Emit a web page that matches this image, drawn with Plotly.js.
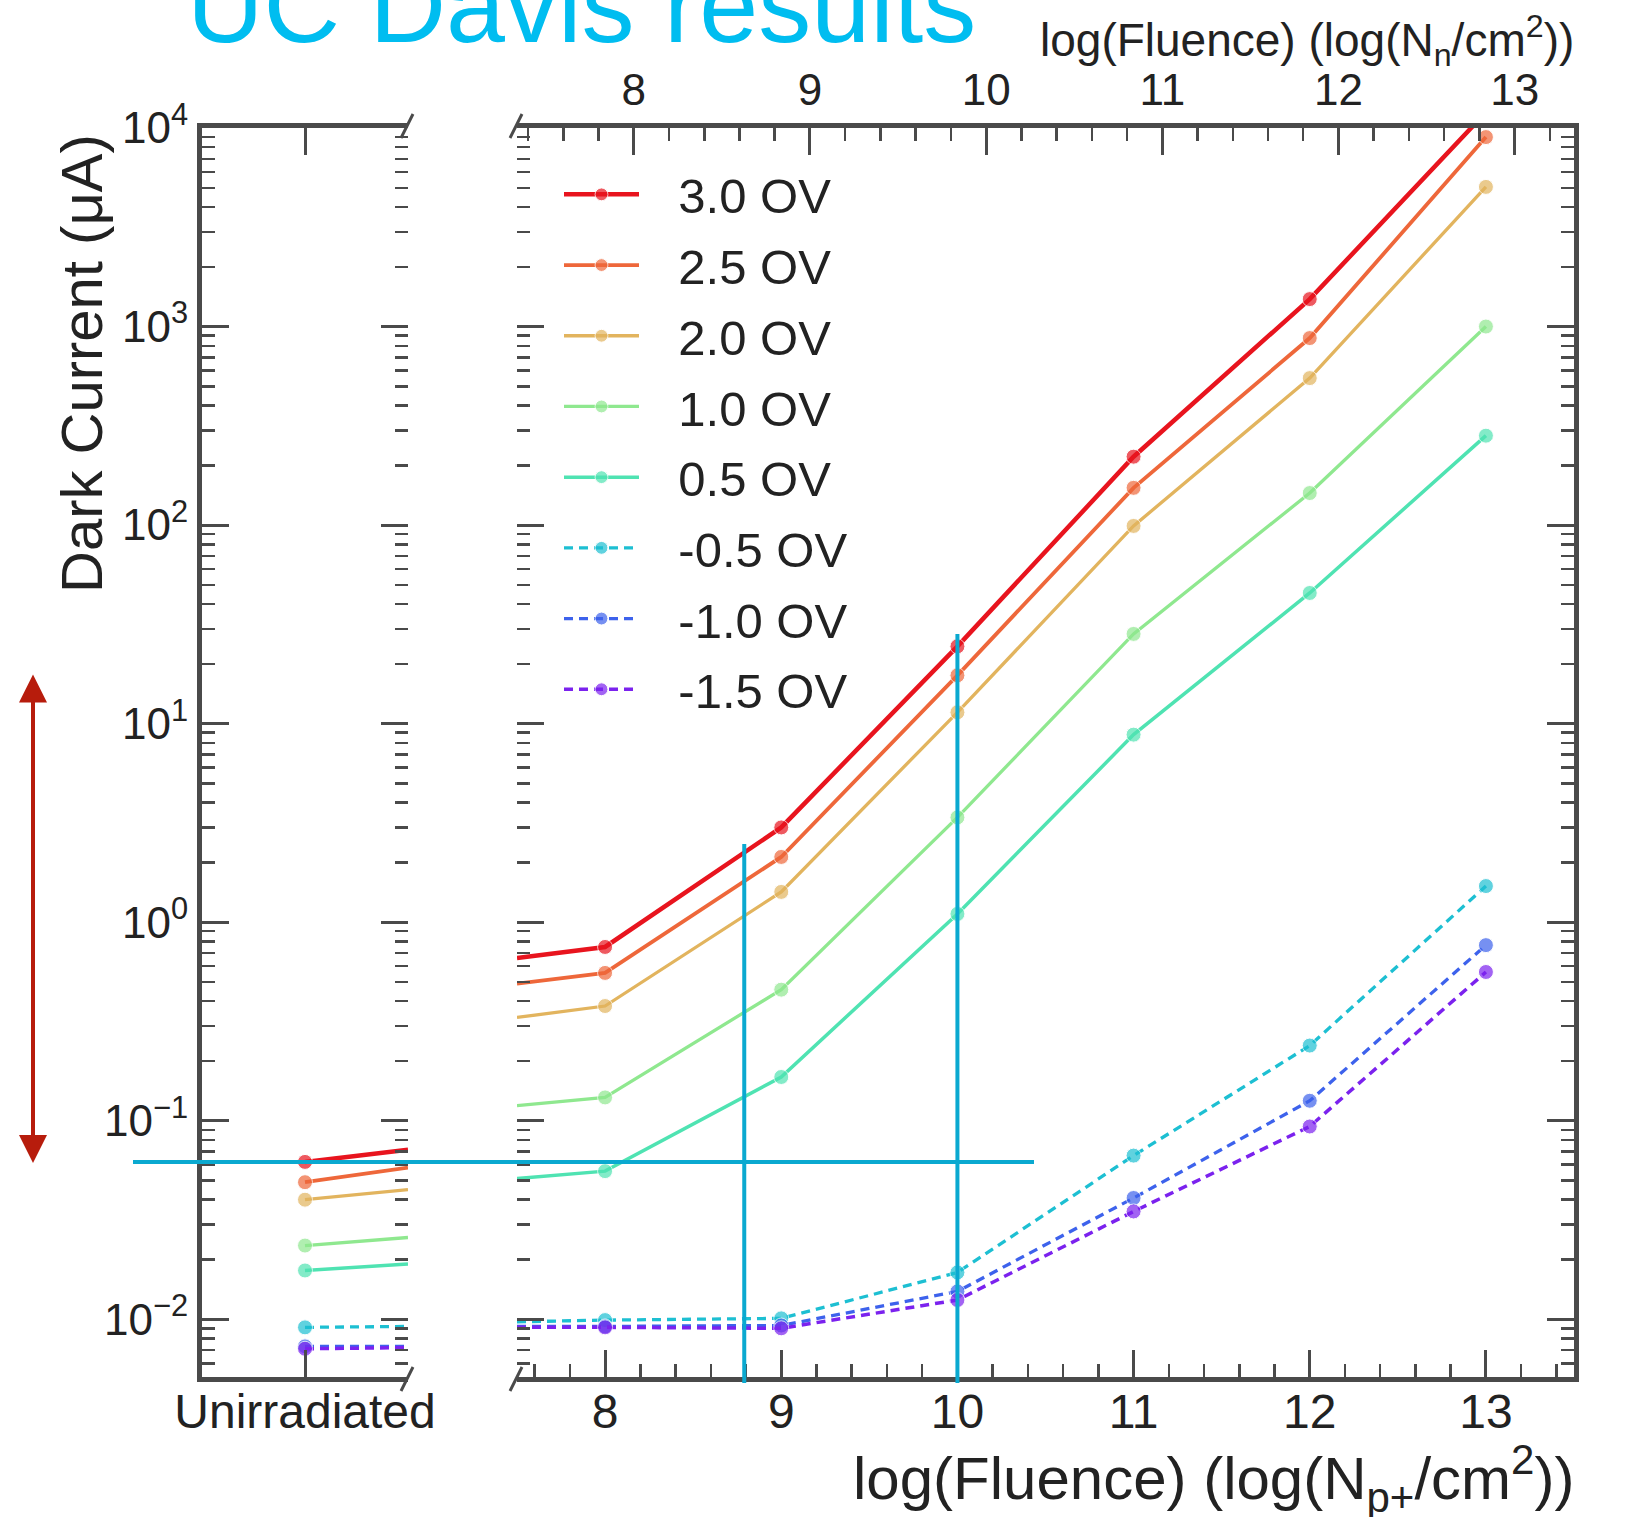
<!DOCTYPE html>
<html>
<head>
<meta charset="utf-8">
<script src="https://cdn.plot.ly/plotly-3.0.1.min.js"></script>
<style>html,body{margin:0;padding:0;background:#fff;}#chart{width:1630px;height:1517px;}</style>
</head>
<body>
<div id="chart"></div>
<script>
// ---------------- data ----------------
var seriesNames = ['3.0 OV', '2.5 OV', '2.0 OV', '1.0 OV', '0.5 OV', '-0.5 OV', '-1.0 OV', '-1.5 OV'];
var fluence = [8, 9, 10, 11, 12, 13];
var unirradiatedLabel = ['Unirradiated'];
// unirradiated dark current (uA) and where its line leaves the left panel
var unirradiated = [0.062, 0.049, 0.040, 0.0235, 0.0176, 0.0091, 0.0073, 0.0071];
var unirradiatedEdge = [0.0714, 0.058, 0.045, 0.0258, 0.019, 0.0092, 0.0073, 0.0072];
// value where each line enters the irradiated panel (at its left edge)
var irradiatedEdge = [0.66, 0.49, 0.331, 0.119, 0.0512, 0.0097, 0.0092, 0.0091];
var ov30 = [0.75, 3.0, 24.5, 221, 1375, 12000];
var ov25 = [0.555, 2.13, 17.5, 154, 875, 9000];
var ov20 = [0.378, 1.42, 11.4, 99, 550, 5050];
var ov10 = [0.131, 0.457, 3.37, 28.3, 145, 1000];
var ov05 = [0.0557, 0.166, 1.10, 8.8, 45.5, 282];
var ovm05 = [0.0099, 0.0101, 0.0172, 0.0667, 0.239, 1.52];
var ovm10 = [0.0092, 0.0093, 0.0138, 0.0408, 0.126, 0.766];
var ovm15 = [0.0091, 0.0090, 0.0125, 0.0349, 0.0935, 0.561];
var seriesValues = [ov30, ov25, ov20, ov10, ov05, ovm05, ovm10, ovm15];
var yTickVals = [0.01, 0.1, 1, 10, 100, 1000, 10000];
var yTickText = ['10<sup>\u22122</sup>', '10<sup>\u22121</sup>', '10<sup>0</sup>', '10<sup>1</sup>', '10<sup>2</sup>', '10<sup>3</sup>', '10<sup>4</sup>'];
var topTickVals = [8, 9, 10, 11, 12, 13];

// ---------------- styles ----------------
var colors = ['#E8141E', '#EE673A', '#E2B45E', '#8FE88F', '#4FE3B2', '#1DBFD2', '#3D62EC', '#7B22EE'];
var widths = [4.5, 3.8, 3.3, 3.3, 3.5, 3.3, 3.3, 3.5];
var dashes = ['solid', 'solid', 'solid', 'solid', 'solid', '9px,6px', '9px,6px', '9px,6px'];
var FONT = 'Liberation Sans, Arial, Helvetica, sans-serif';
var AX = '#4a4a4a';
var W = 1630, H = 1517;
var leftX0 = 202, leftX1 = 408, rightX0 = 517, rightX1 = 1574, yTop = 128, yBot = 1377;
var panelLeftRange = [-1, 1];
var panelRightRange = [7.5, 13.5];
var topOffset = 0.163;
var yRange = [-2.291, 4.0];
var MS = 15;

var traces = [];
for (var i = 0; i < seriesNames.length; i++) {
  // left (unirradiated) panel
  traces.push({
    x: [0, panelLeftRange[1]], y: [unirradiated[i], unirradiatedEdge[i]],
    xaxis: 'x', yaxis: 'y', mode: 'lines+markers', showlegend: false, hoverinfo: 'skip',
    legendgroup: seriesNames[i],
    line: {color: colors[i], width: widths[i], dash: dashes[i]},
    marker: {color: colors[i], size: [MS, 0]}
  });
  // right (irradiated) panel
  traces.push({
    x: [panelRightRange[0]].concat(fluence), y: [irradiatedEdge[i]].concat(seriesValues[i]),
    xaxis: 'x2', yaxis: 'y2', mode: 'lines+markers', name: '\u2002\u2009' + seriesNames[i],
    legendgroup: seriesNames[i],
    line: {color: colors[i], width: widths[i], dash: dashes[i]},
    marker: {color: colors[i], size: [0, MS, MS, MS, MS, MS, MS]}
  });
}
// carriers for the extra tick-only axes
traces.push({x: [], y: [], xaxis: 'x3', yaxis: 'y2', showlegend: false, hoverinfo: 'skip', mode: 'markers'});
traces.push({x: [], y: [], xaxis: 'x', yaxis: 'y3', showlegend: false, hoverinfo: 'skip', mode: 'markers'});
traces.push({x: [], y: [], xaxis: 'x2', yaxis: 'y4', showlegend: false, hoverinfo: 'skip', mode: 'markers'});

function yAx(extra) {
  var a = {
    type: 'log', range: yRange, autorange: false,
    domain: [(H - yBot) / H, (H - yTop) / H],
    tickmode: 'array', tickvals: yTickVals, ticktext: yTickText,
    ticks: 'inside', ticklen: 27, tickwidth: 3, tickcolor: AX,
    minor: {dtick: 'D1', ticks: 'inside', ticklen: 13, tickwidth: 2.5, tickcolor: AX},
    showgrid: false, zeroline: false, showline: false,
    tickfont: {family: FONT, size: 44, color: '#222'}, fixedrange: true
  };
  for (var k in extra) a[k] = extra[k];
  return a;
}

var xTickFont = {family: FONT, size: 48, color: '#222'};
var layout = {
  width: W, height: H,
  margin: {l: 0, r: 0, t: 0, b: 0, pad: 0},
  paper_bgcolor: '#ffffff', plot_bgcolor: 'rgba(0,0,0,0)',
  showlegend: true,
  xaxis: {
    domain: [leftX0 / W, leftX1 / W], range: panelLeftRange, autorange: false,
    tickmode: 'array', tickvals: [0], ticktext: unirradiatedLabel,
    ticks: 'inside', ticklen: 27, tickwidth: 3, tickcolor: AX,
    showline: true, linewidth: 5, linecolor: AX, mirror: 'ticks', ticklabelstandoff: -12,
    showgrid: false, zeroline: false, tickfont: xTickFont, anchor: 'y', fixedrange: true
  },
  xaxis2: {
    domain: [rightX0 / W, rightX1 / W], range: panelRightRange, autorange: false,
    tickmode: 'linear', tick0: 8, dtick: 1,
    ticks: 'inside', ticklen: 27, tickwidth: 3, tickcolor: AX,
    minor: {dtick: 0.2, ticks: 'inside', ticklen: 13, tickwidth: 2.5, tickcolor: AX},
    showline: true, linewidth: 5, linecolor: AX, ticklabelstandoff: -12,
    showgrid: false, zeroline: false, tickfont: xTickFont, anchor: 'y2', fixedrange: true
  },
  xaxis3: {
    overlaying: 'x2', side: 'top', anchor: 'y2',
    range: [panelRightRange[0] - topOffset, panelRightRange[1] - topOffset], autorange: false,
    tickmode: 'array', tickvals: topTickVals,
    ticks: 'inside', ticklen: 27, tickwidth: 3, tickcolor: AX,
    minor: {dtick: 0.2, tick0: 0, ticks: 'inside', ticklen: 13, tickwidth: 2.5, tickcolor: AX},
    showline: true, linewidth: 5, linecolor: AX,
    showgrid: false, zeroline: false, tickfont: {family: FONT, size: 44, color: '#222'}, fixedrange: true
  },
  yaxis: yAx({anchor: 'x', side: 'left', showline: true, linewidth: 5, linecolor: AX}),
  yaxis3: yAx({anchor: 'x', overlaying: 'y', side: 'right', showticklabels: false}),
  yaxis2: yAx({anchor: 'x2', side: 'right', showline: true, linewidth: 5, linecolor: AX, showticklabels: false}),
  yaxis4: yAx({anchor: 'x2', overlaying: 'y2', side: 'left', showticklabels: false}),
  legend: {
    x: 559 / W, y: 1 - 156 / H, xanchor: 'left', yanchor: 'top',
    bgcolor: 'rgba(255,255,255,0)', borderwidth: 0,
    font: {family: FONT, size: 49, color: '#222'},
    itemwidth: 75, tracegroupgap: 4
  },
  annotations: [
    {text: 'UC Davis results', xref: 'paper', yref: 'paper', x: 185 / W, y: 1 - 5 / H,
      xanchor: 'left', yanchor: 'middle', showarrow: false,
      font: {family: FONT, size: 106, color: '#00BDF0'}},
    {text: 'log(Fluence) (log(N<sub>n</sub>/cm<sup>2</sup>))', xref: 'paper', yref: 'paper',
      x: 1576 / W, y: 1 - 41 / H, xanchor: 'right', yanchor: 'middle', showarrow: false,
      font: {family: FONT, size: 46, color: '#222'}},
    {text: 'log(Fluence) (log(N<sub>p+</sub>/cm<sup>2</sup>))', xref: 'paper', yref: 'paper',
      x: 1576 / W, y: 1 - 1478 / H, xanchor: 'right', yanchor: 'middle', showarrow: false,
      font: {family: FONT, size: 60, color: '#222'}},
    {text: 'Dark Current (\u03bcA)', xref: 'paper', yref: 'paper', textangle: -90,
      x: 81 / W, y: 1 - 364 / H, xanchor: 'center', yanchor: 'middle', showarrow: false,
      font: {family: FONT, size: 58, color: '#222'}},
    {text: '', xref: 'paper', yref: 'paper', x: 33 / W, y: 1 - 1163 / H,
      ax: 0, ay: -490, axref: 'pixel', ayref: 'pixel', showarrow: true,
      arrowside: 'end+start', arrowhead: 2, arrowsize: 1.4, arrowwidth: 4, arrowcolor: '#B71C0C'}
  ],
  shapes: [
    // cyan guide lines
    {type: 'line', xref: 'paper', yref: 'y', x0: 133 / W, x1: 1034 / W, y0: unirradiated[0], y1: unirradiated[0],
      line: {color: '#0AA9D0', width: 4}},
    {type: 'line', xref: 'x2', yref: 'paper', x0: 8.79, x1: 8.79, y0: 1 - 1383 / H, y1: 1 - 844 / H,
      line: {color: '#0AA9D0', width: 4}},
    {type: 'line', xref: 'x2', yref: 'paper', x0: 10.0, x1: 10.0, y0: 1 - 1383 / H, y1: 1 - 634 / H,
      line: {color: '#0AA9D0', width: 4}},
    // axis break marks
    {type: 'line', xref: 'paper', yref: 'paper', x0: (leftX1 - 7) / W, x1: (leftX1 + 5) / W, y0: 1 - (yTop + 10) / H, y1: 1 - (yTop - 14) / H, line: {color: AX, width: 3}},
    {type: 'line', xref: 'paper', yref: 'paper', x0: (leftX1 - 7) / W, x1: (leftX1 + 5) / W, y0: 1 - (yBot + 14) / H, y1: 1 - (yBot - 10) / H, line: {color: AX, width: 3}},
    {type: 'line', xref: 'paper', yref: 'paper', x0: (rightX0 - 7) / W, x1: (rightX0 + 5) / W, y0: 1 - (yTop + 10) / H, y1: 1 - (yTop - 14) / H, line: {color: AX, width: 3}},
    {type: 'line', xref: 'paper', yref: 'paper', x0: (rightX0 - 7) / W, x1: (rightX0 + 5) / W, y0: 1 - (yBot + 14) / H, y1: 1 - (yBot - 10) / H, line: {color: AX, width: 3}}
  ]
};

Plotly.newPlot('chart', traces, layout, {displayModeBar: false, staticPlot: true});
</script>
</body>
</html>
